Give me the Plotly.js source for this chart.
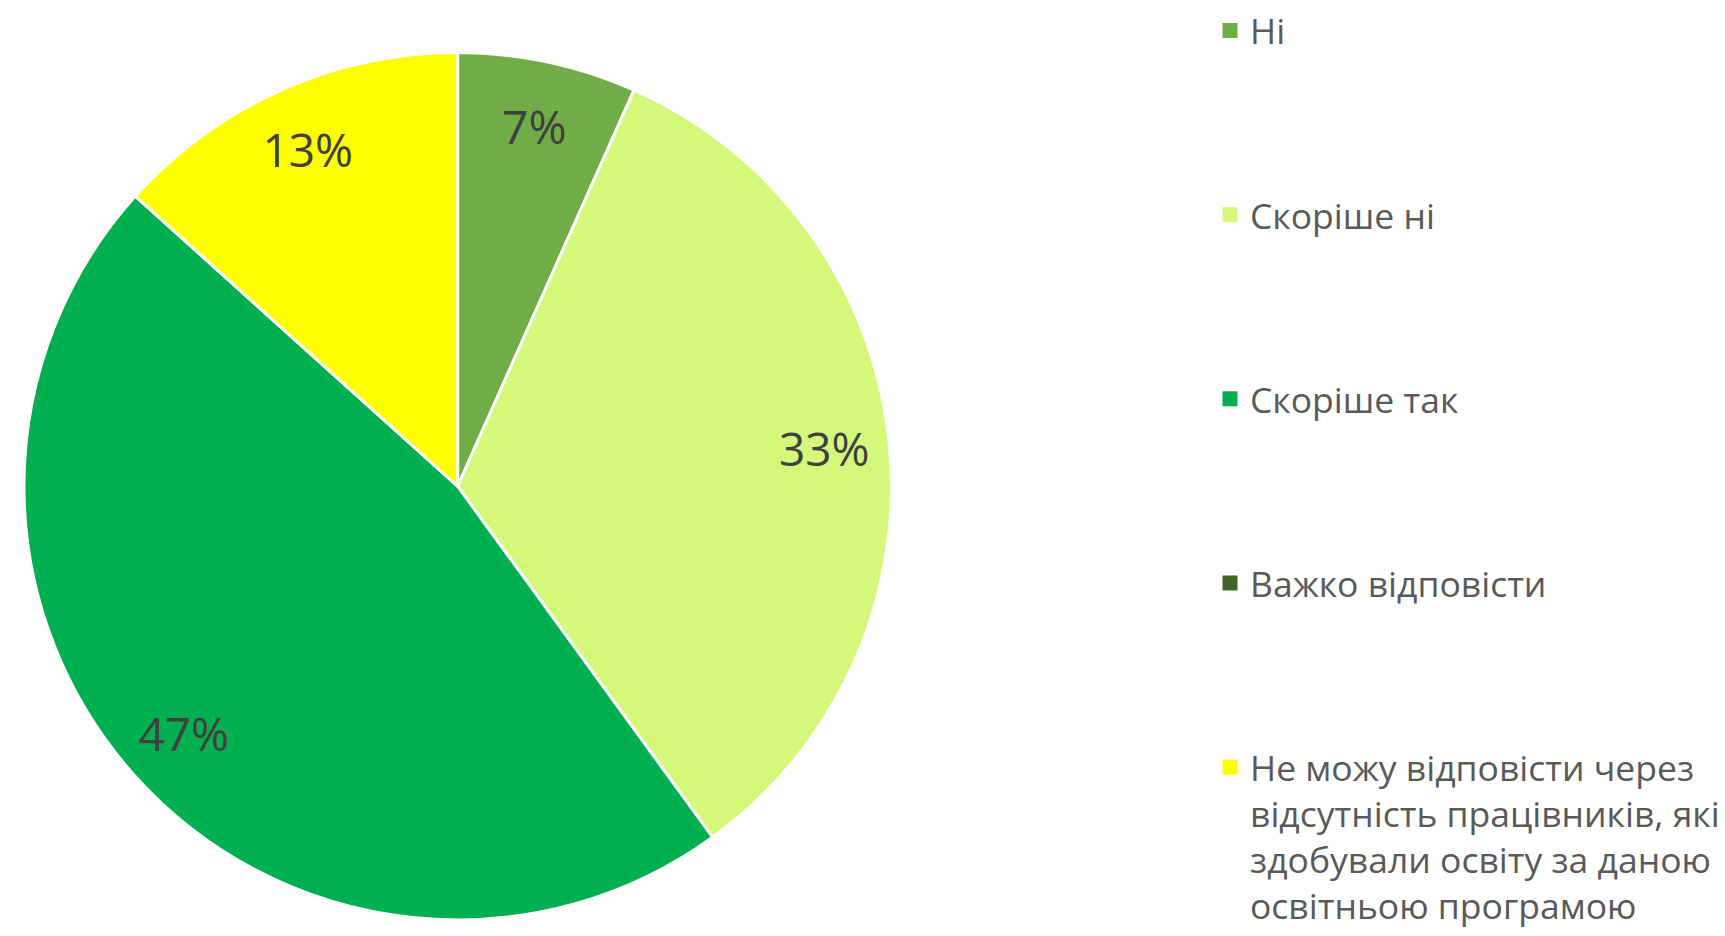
<!DOCTYPE html>
<html>
<head>
<meta charset="utf-8">
<script src="https://cdn.plot.ly/plotly-3.0.1.min.js"></script>
<style>html,body{margin:0;padding:0;background:#fff;}#chart{width:1725px;height:936px;}</style>
</head>
<body>
<div id="chart"></div>
<script>
const categories = [
  'Ні',
  'Скоріше ні',
  'Скоріше так',
  'Важко відповісти',
  'Не можу відповісти через<br>відсутність працівників, які<br>здобували освіту за даною<br>освітньою програмою'
];
const counts = [1, 5, 7, 0, 2];
const colors = ['#70AD47', '#D4F87A', '#00B050', '#3F6624', '#FFFF00'];

const pieDomain = {x: [0.0139, 0.517], y: [0.017, 0.944]};

const pieTrace = {
  type: 'pie',
  labels: categories,
  values: counts,
  sort: false,
  direction: 'clockwise',
  rotation: 0,
  marker: {colors: colors, line: {color: '#ffffff', width: 3}},
  textinfo: 'none',
  hoverinfo: 'label+percent',
  showlegend: false,
  domain: pieDomain
};

// transparent ring on top of the pie that carries the percentage labels
const labelRing = {
  type: 'pie',
  labels: categories,
  values: counts,
  sort: false,
  direction: 'clockwise',
  rotation: 0,
  hole: 0.7,
  marker: {colors: categories.map(() => 'rgba(0,0,0,0)'), line: {width: 0}},
  texttemplate: counts.map(v => v > 0 ? '%{percent:.0%}' : ''),
  textposition: 'inside',
  insidetextorientation: 'horizontal',
  insidetextfont: {family: 'Open Sans, sans-serif', size: 46, color: '#404040'},
  hoverinfo: 'skip',
  showlegend: false,
  domain: pieDomain
};

const legendTraces = categories.map((c, i) => ({
  type: 'scatter',
  mode: 'markers',
  x: [null],
  y: [null],
  name: c,
  legendgroup: 'g' + i,
  marker: {symbol: 'square', size: 15, color: colors[i]},
  hoverinfo: 'skip',
  showlegend: true
}));

const layout = {
  width: 1725,
  height: 936,
  margin: {l: 0, r: 0, t: 0, b: 0},
  paper_bgcolor: '#ffffff',
  plot_bgcolor: '#ffffff',
  xaxis: {visible: false},
  yaxis: {visible: false},
  showlegend: true,
  legend: {
    x: 0.702, y: 0.999, xanchor: 'left', yanchor: 'top',
    font: {family: 'Open Sans, sans-serif', size: 35.5, color: '#595959'},
    tracegroupgap: 135,
    valign: 'top',
    itemclick: false,
    itemdoubleclick: false
  }
};

Plotly.newPlot('chart', [pieTrace, labelRing, ...legendTraces], layout, {displayModeBar: false, staticPlot: true});
</script>
</body>
</html>
